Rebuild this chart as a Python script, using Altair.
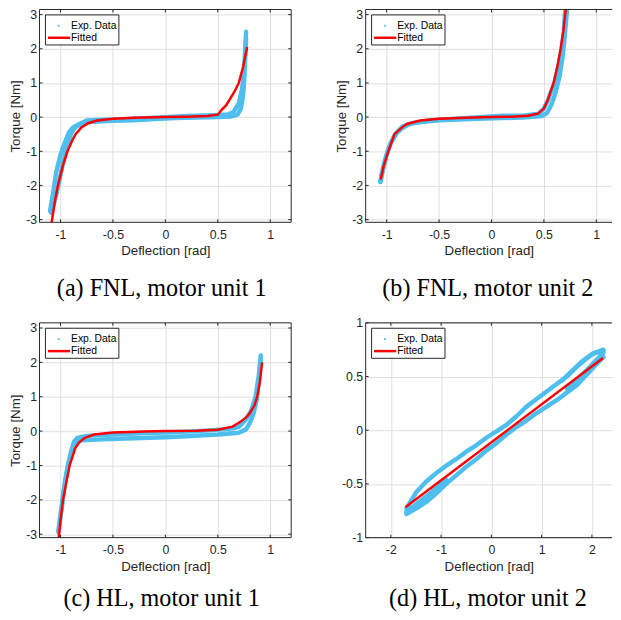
import altair as alt
import pandas as pd

BLUE = "#4DBEEE"
RED = "#FF0000"
AX = "#262626"
GRID = "#DEDEDE"

# ---------------- panel (a) FNL, motor unit 1 ----------------
a_up_x = [-1.10, -1.07, -1.04, -1.00, -0.96, -0.92, -0.88, -0.82, -0.75, -0.60, -0.40, -0.20, 0.00, 0.20, 0.40, 0.50, 0.60, 0.65, 0.70, 0.73, 0.75, 0.76, 0.77]
a_up_y = [-2.75, -2.20, -1.60, -1.10, -0.75, -0.45, -0.30, -0.20, -0.10, -0.08, -0.06, -0.03, 0.00, 0.03, 0.05, 0.06, 0.08, 0.15, 0.40, 0.80, 1.30, 1.90, 2.50]
a_dn_x = [0.77, 0.76, 0.75, 0.74, 0.72, 0.69, 0.63, 0.50, 0.30, 0.10, -0.10, -0.30, -0.50, -0.70, -0.80, -0.86, -0.90, -0.94, -0.98, -1.02, -1.06, -1.09]
a_dn_y = [2.30, 1.60, 1.00, 0.60, 0.25, 0.08, 0.02, 0.00, -0.01, -0.03, -0.06, -0.09, -0.11, -0.14, -0.20, -0.30, -0.50, -0.90, -1.40, -2.00, -2.50, -2.80]
a_fit_x = [-1.085, -1.055, -1.025, -0.98, -0.934, -0.89, -0.856, -0.80, -0.737, -0.65, -0.50, -0.30, 0.00, 0.20, 0.40, 0.50, 0.533, 0.58, 0.61, 0.66, 0.70, 0.74, 0.78]
a_fit_y = [-3.10, -2.50, -2.00, -1.45, -1.00, -0.70, -0.50, -0.30, -0.18, -0.10, -0.05, -0.02, 0.00, 0.01, 0.03, 0.07, 0.20, 0.35, 0.50, 0.75, 1.00, 1.45, 2.05]

# ---------------- panel (b) FNL, motor unit 2 ----------------
b_up_x = [-1.06, -1.04, -1.00, -0.96, -0.90, -0.85, -0.78, -0.60, -0.30, 0.00, 0.10, 0.30, 0.45, 0.50, 0.54, 0.60, 0.64, 0.67, 0.69, 0.70, 0.71]
b_up_y = [-1.90, -1.60, -1.10, -0.75, -0.45, -0.32, -0.20, -0.10, -0.04, 0.02, 0.04, 0.04, 0.10, 0.25, 0.50, 1.00, 1.50, 2.00, 2.50, 3.00, 3.20]
b_dn_x = [0.72, 0.70, 0.68, 0.65, 0.61, 0.57, 0.53, 0.48, 0.30, 0.10, -0.20, -0.50, -0.75, -0.85, -0.92, -0.98, -1.02, -1.05, -1.06]
b_dn_y = [3.10, 2.40, 1.80, 1.20, 0.70, 0.35, 0.12, 0.03, -0.01, -0.03, -0.06, -0.09, -0.17, -0.28, -0.50, -0.90, -1.30, -1.70, -1.90]
b_fit_x = [-1.056, -1.03, -0.984, -0.925, -0.853, -0.806, -0.68, -0.50, -0.25, 0.00, 0.20, 0.35, 0.443, 0.50, 0.537, 0.593, 0.63, 0.66, 0.685, 0.703, 0.712]
b_fit_y = [-1.83, -1.45, -1.00, -0.50, -0.30, -0.20, -0.10, -0.05, -0.02, 0.00, 0.01, 0.04, 0.10, 0.25, 0.50, 1.00, 1.50, 2.00, 2.50, 3.00, 3.20]

# ---------------- panel (c) HL, motor unit 1 ----------------
c_up_x = [-1.02, -0.99, -0.96, -0.93, -0.90, -0.87, -0.84, -0.75, -0.50, -0.20, 0.00, 0.30, 0.55, 0.65, 0.70, 0.76, 0.82, 0.86, 0.89, 0.91]
c_up_y = [-2.90, -2.20, -1.50, -1.00, -0.60, -0.30, -0.20, -0.14, -0.10, -0.06, -0.04, 0.00, 0.05, 0.08, 0.12, 0.30, 0.60, 1.00, 1.60, 2.20]
c_dn_x = [0.91, 0.89, 0.87, 0.84, 0.80, 0.77, 0.70, 0.50, 0.20, 0.00, -0.30, -0.60, -0.80, -0.86, -0.90, -0.94, -0.97, -1.00, -1.02]
c_dn_y = [2.10, 1.40, 0.90, 0.50, 0.20, 0.05, -0.05, -0.10, -0.15, -0.18, -0.21, -0.24, -0.27, -0.35, -0.70, -1.20, -1.80, -2.50, -2.95]
c_fit_x = [-1.017, -1.00, -0.976, -0.945, -0.913, -0.86, -0.82, -0.77, -0.68, -0.50, -0.20, 0.00, 0.30, 0.50, 0.64, 0.72, 0.77, 0.80, 0.85, 0.876, 0.90, 0.923]
c_fit_y = [-3.10, -2.60, -2.00, -1.50, -1.00, -0.50, -0.32, -0.20, -0.10, -0.04, -0.01, 0.00, 0.01, 0.04, 0.13, 0.28, 0.40, 0.50, 0.75, 1.00, 1.40, 2.00]

# ---------------- panel (d) HL, motor unit 2 ----------------
d_up_x = [-1.69, -1.50, -1.30, -1.10, -0.90, -0.70, -0.50, -0.30, -0.10, 0.10, 0.30, 0.50, 0.70, 0.90, 1.10, 1.30, 1.50, 1.70, 1.90, 2.05, 2.23]
d_up_y = [-0.73, -0.58, -0.48, -0.40, -0.33, -0.27, -0.20, -0.14, -0.07, -0.01, 0.05, 0.13, 0.22, 0.29, 0.36, 0.43, 0.50, 0.59, 0.67, 0.72, 0.75]
d_dn_x = [2.23, 2.10, 1.90, 1.70, 1.50, 1.30, 1.10, 0.90, 0.70, 0.50, 0.30, 0.10, -0.10, -0.30, -0.50, -0.70, -0.90, -1.10, -1.30, -1.50, -1.69]
d_dn_y = [0.68, 0.62, 0.52, 0.42, 0.35, 0.28, 0.22, 0.16, 0.09, 0.03, -0.04, -0.12, -0.19, -0.27, -0.34, -0.42, -0.50, -0.59, -0.67, -0.73, -0.78]
d_l1_x = [-0.90, -1.10, -1.30, -1.50, -1.69]
d_l1_y = [-0.46, -0.54, -0.62, -0.69, -0.76]
d_l2_x = [-1.00, -1.20, -1.40, -1.55, -1.69]
d_l2_y = [-0.50, -0.60, -0.68, -0.73, -0.77]
d_r1_x = [1.40, 1.60, 1.80, 2.00, 2.23]
d_r1_y = [0.46, 0.55, 0.64, 0.71, 0.74]
d_r2_x = [1.50, 1.70, 1.90, 2.10, 2.23]
d_r2_y = [0.39, 0.47, 0.56, 0.66, 0.72]
d_fit_x = [-1.71, 2.22]
d_fit_y = [-0.718, 0.673]

ticks_fnl_x = [-1, -0.5, 0, 0.5, 1]
ticks_fnl_y = [-3, -2, -1, 0, 1, 2, 3]
ticks_d_x = [-2, -1, 0, 1, 2]
ticks_d_y = [-1, -0.5, 0, 0.5, 1]

captions = ["(a) FNL, motor unit 1", "(b) FNL, motor unit 2", "(c) HL, motor unit 1", "(d) HL, motor unit 2"]
legend_labels = ["Exp. Data", "Fitted"]

ONE = alt.Data(values=[{"k": 1}])
MINUS_FIX = "replace(datum.label, '\u2212', '-')"


def lines_df(branches):
    rows = []
    for b, (xs, ys) in enumerate(branches):
        for i, (x, y) in enumerate(zip(xs, ys)):
            rows.append({"x": x, "y": y, "b": b, "i": i})
    return pd.DataFrame(rows)


def panel(branches, fx, fy, xdom, ydom, w, h, xticks, yticks, ytitle, caption, cap_dy, right_frame):
    xs = alt.Scale(domain=xdom, nice=False, zero=False)
    ys = alt.Scale(domain=ydom, nice=False, zero=False)
    xaxis = alt.Axis(values=xticks, title="Deflection [rad]", grid=True, domain=False, ticks=False,
                     labelPadding=6.5, titlePadding=3, format="~g", labelExpr=MINUS_FIX, labelFlush=False)
    yaxis = alt.Axis(values=yticks, title=ytitle if ytitle else "", grid=True, domain=False, ticks=False,
                     labelPadding=3, titlePadding=3, format="~g", labelExpr=MINUS_FIX, labelFlush=False)

    def X(f="x"):
        return alt.X(f + ":Q", scale=xs, axis=xaxis)

    def Y(f="y"):
        return alt.Y(f + ":Q", scale=ys, axis=yaxis)

    exp = alt.Chart(lines_df(branches)).mark_line(
        color=BLUE, strokeWidth=4.5, clip=True, strokeCap="round", strokeJoin="round"
    ).encode(x=X(), y=Y(), detail="b:N", order="i:Q")
    fit = alt.Chart(pd.DataFrame({"x": fx, "y": fy, "i": list(range(len(fx)))})).mark_line(
        color=RED, strokeWidth=2.5, clip=True
    ).encode(x=X(), y=Y(), order="i:Q")
    layers = [exp, fit]

    # frame (box)
    fr = alt.Chart(ONE).mark_rule(color=AX, strokeWidth=1)
    layers.append(fr.encode(x=alt.value(0), y=alt.value(0), y2=alt.value(h)))
    layers.append(fr.encode(x=alt.value(0), x2=alt.value(w), y=alt.value(0)))
    layers.append(fr.encode(x=alt.value(0), x2=alt.value(w), y=alt.value(h)))
    if right_frame:
        layers.append(fr.encode(x=alt.value(w), y=alt.value(0), y2=alt.value(h)))

    # inward ticks
    txd = pd.DataFrame({"x": xticks})
    tyd = pd.DataFrame({"y": yticks})
    tk = 3
    layers.append(alt.Chart(txd).mark_rule(color=AX, strokeWidth=1).encode(
        x=X(), y=alt.value(h), y2=alt.value(h - tk)))
    layers.append(alt.Chart(txd).mark_rule(color=AX, strokeWidth=1).encode(
        x=X(), y=alt.value(0), y2=alt.value(tk)))
    layers.append(alt.Chart(tyd).mark_rule(color=AX, strokeWidth=1).encode(
        y=Y(), x=alt.value(0), x2=alt.value(tk)))
    if right_frame:
        layers.append(alt.Chart(tyd).mark_rule(color=AX, strokeWidth=1).encode(
            y=Y(), x=alt.value(w - tk), x2=alt.value(w)))

    # legend
    layers.append(alt.Chart(ONE).mark_rect(fill="white", stroke=AX, strokeWidth=1).encode(
        x=alt.value(6), x2=alt.value(80.5), y=alt.value(5.5), y2=alt.value(36)))
    layers.append(alt.Chart(ONE).mark_circle(color=BLUE, size=5, opacity=1).encode(
        x=alt.value(19.5), y=alt.value(16.5)))
    layers.append(alt.Chart(ONE).mark_rule(color=RED, strokeWidth=2.5).encode(
        x=alt.value(8.5), x2=alt.value(31), y=alt.value(28.7)))
    for lab, yy in zip(legend_labels, [16.5, 28.7]):
        layers.append(alt.Chart(ONE).mark_text(
            text=lab, font="Liberation Sans", fontSize=10.5, align="left", baseline="middle", color="black"
        ).encode(x=alt.value(32), y=alt.value(yy)))

    # caption
    layers.append(alt.Chart(ONE).mark_text(
        text=caption, font="Liberation Serif", fontSize=24.5, align="center", baseline="alphabetic", color="black"
    ).encode(x=alt.value(124), y=alt.value(h + cap_dy)))

    return alt.layer(*layers).properties(width=w, height=h)


pa = panel([(a_up_x, a_up_y), (a_dn_x, a_dn_y)], a_fit_x, a_fit_y, [-1.2, 1.2], [-3.08, 3.15],
           255.4, 216, ticks_fnl_x, ticks_fnl_y, "Torque [Nm]", captions[0], 75, True)
pb = panel([(b_up_x, b_up_y), (b_dn_x, b_dn_y)], b_fit_x, b_fit_y, [-1.2, 1.15], [-3.08, 3.15],
           250, 216, ticks_fnl_x, ticks_fnl_y, "Torque [Nm]", captions[1], 75, False)
pc = panel([(c_up_x, c_up_y), (c_dn_x, c_dn_y)], c_fit_x, c_fit_y, [-1.2, 1.2], [-3.1, 3.15],
           255.4, 218, ticks_fnl_x, ticks_fnl_y, "Torque [Nm]", captions[2], 69, True)
pd_ = panel([(d_up_x, d_up_y), (d_dn_x, d_dn_y), (d_l1_x, d_l1_y), (d_l2_x, d_l2_y),
             (d_r1_x, d_r1_y), (d_r2_x, d_r2_y)], d_fit_x, d_fit_y, [-2.5, 2.4], [-1, 1],
            250, 218, ticks_d_x, ticks_d_y, None, captions[3], 69, False)

chart = alt.concat(
    pa, pb, pc, pd_, columns=2, spacing=alt.RowColnumber(row=102, column=75),
    bounds="flush", align="each"
).configure_view(stroke=None).configure_axis(
    labelFont="Liberation Sans", labelFontSize=12.5, labelColor=AX,
    titleFont="Liberation Sans", titleFontSize=13.5, titleFontWeight="normal", titleColor=AX,
    gridColor=GRID, gridWidth=1, gridOpacity=1,
).properties(padding={"top": -4, "left": 0, "right": 0, "bottom": 0}, background="white")

chart.save("out.html", embed_options={"renderer": "svg", "actions": False})
